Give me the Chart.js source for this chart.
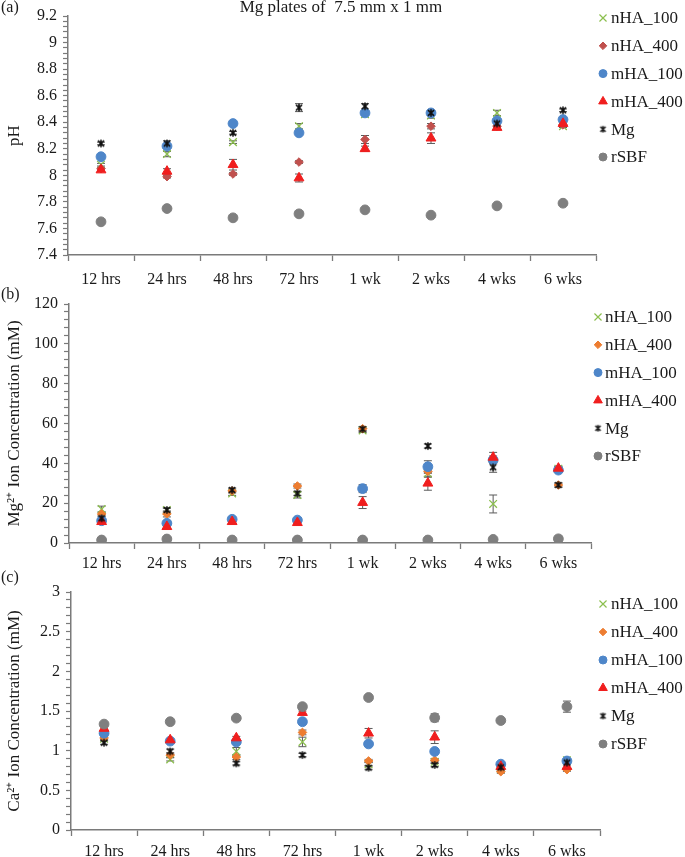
<!DOCTYPE html>
<html><head><meta charset="utf-8">
<script src="https://cdn.jsdelivr.net/npm/chart.js@4.4.1/dist/chart.umd.min.js"></script>
<style>
html,body{margin:0;padding:0;background:#fff;}
#wrap{position:relative;width:685px;height:857px;overflow:hidden;}
.p{position:absolute;left:0;width:685px;}
canvas{display:block;}
</style></head><body>
<div id="wrap">
<div class="p" style="top:0;height:285px"><canvas id="ca" width="685" height="285"></canvas></div>
<div class="p" style="top:285px;height:285px"><canvas id="cb" width="685" height="285"></canvas></div>
<div class="p" style="top:570px;height:287px"><canvas id="cc" width="685" height="287"></canvas></div>
</div>
<script>
// ---------- DATA ----------
const categories = ['12 hrs','24 hrs','48 hrs','72 hrs','1 wk','2 wks','4 wks','6 wks'];
const seriesNames = ['nHA_100','nHA_400','mHA_100','mHA_400','Mg','rSBF'];

// (a) pH
const ph_nHA100 = [8.08, 8.16, 8.25, 8.37, 8.46, 8.45, 8.47, 8.37];
const ph_nHA400 = [8.05, 7.99, 8.01, 8.10, 8.27, 8.37, 8.37, 8.38];
const ph_mHA100 = [8.14, 8.22, 8.39, 8.32, 8.47, 8.47, 8.41, 8.42];
const ph_mHA400 = [8.04, 8.03, 8.08, 7.98, 8.20, 8.28, 8.36, 8.39];
const ph_Mg     = [8.24, 8.24, 8.32, 8.51, 8.52, 8.47, 8.39, 8.49];
const ph_rSBF   = [7.65, 7.75, 7.68, 7.71, 7.74, 7.70, 7.77, 7.79];
const phErr_nHA100 = [0.01, 0.02, 0.01, 0.02, 0.01, 0.02, 0.02, 0.01];
const phErr_nHA400 = [0.01, 0.01, 0.01, 0.01, 0.03, 0.02, 0.01, 0.01];
const phErr_mHA100 = [0.01, 0.01, 0.01, 0.01, 0.01, 0.01, 0.01, 0.01];
const phErr_mHA400 = [0.01, 0.02, 0.04, 0.03, 0.02, 0.04, 0.01, 0.01];
const phErr_Mg     = [0.01, 0.02, 0.01, 0.03, 0.02, 0.02, 0.02, 0.01];
const phErr_rSBF   = [0.01, 0.01, 0.01, 0.01, 0.01, 0.01, 0.01, 0.01];

// (b) Mg2+ ion concentration (mM)
const mg_nHA100 = [17.0, 16.5, 24.9, 24.1, 56.5, 35.0, 19.6, 37.3];
const mg_nHA400 = [14.6, 14.6, 26.1, 28.6, 57.4, 36.0, 41.0, 29.1];
const mg_mHA100 = [11.2, 9.9, 11.9, 11.5, 27.3, 38.3, 41.7, 36.6];
const mg_mHA400 = [10.7, 8.2, 10.7, 10.2, 20.3, 30.0, 43.0, 37.5];
const mg_Mg     = [12.4, 16.6, 26.6, 24.9, 57.2, 48.7, 38.0, 29.1];
const mg_rSBF   = [1.5, 2.0, 1.5, 1.5, 1.5, 1.5, 1.8, 2.1];
const mgErr_nHA100 = [1.5, 1.0, 1.0, 1.5, 1.0, 2.0, 4.5, 1.0];
const mgErr_nHA400 = [1.0, 1.5, 1.0, 1.0, 1.0, 1.0, 1.0, 1.0];
const mgErr_mHA100 = [1.0, 1.0, 1.0, 1.0, 2.0, 3.0, 2.0, 1.0];
const mgErr_mHA400 = [1.0, 1.0, 1.0, 1.0, 3.0, 3.5, 2.5, 1.0];
const mgErr_Mg     = [1.0, 1.0, 1.0, 1.0, 1.0, 1.0, 2.5, 1.0];
const mgErr_rSBF   = [0.5, 0.5, 0.5, 0.5, 0.5, 0.5, 0.5, 0.5];

// (c) Ca2+ ion concentration (mM)
const ca_nHA100 = [1.15, 0.89, 0.99, 1.11, 0.83, 0.86, 0.77, 0.88];
const ca_nHA400 = [1.16, 0.945, 0.92, 1.23, 0.87, 0.88, 0.735, 0.76];
const ca_mHA100 = [1.22, 1.12, 1.11, 1.365, 1.085, 0.99, 0.83, 0.87];
const ca_mHA400 = [1.28, 1.135, 1.16, 1.48, 1.22, 1.17, 0.80, 0.80];
const ca_Mg     = [1.10, 0.99, 0.84, 0.945, 0.785, 0.82, 0.79, 0.85];
const ca_rSBF   = [1.335, 1.365, 1.41, 1.555, 1.67, 1.415, 1.38, 1.555];
const caErr_nHA100 = [0.02, 0.02, 0.05, 0.06, 0.02, 0.02, 0.02, 0.02];
const caErr_nHA400 = [0.02, 0.03, 0.03, 0.03, 0.02, 0.02, 0.02, 0.02];
const caErr_mHA100 = [0.02, 0.02, 0.02, 0.02, 0.02, 0.02, 0.02, 0.02];
const caErr_mHA400 = [0.02, 0.02, 0.02, 0.02, 0.06, 0.08, 0.02, 0.02];
const caErr_Mg     = [0.02, 0.03, 0.02, 0.02, 0.02, 0.02, 0.02, 0.02];
const caErr_rSBF   = [0.02, 0.02, 0.02, 0.02, 0.02, 0.05, 0.02, 0.07];

// ---------- STYLE ----------
const FONT = "'Liberation Serif', 'Times New Roman', serif";
const AXIS = '#7a7a7a';
const TXT = '#1a1a1a';

function makeStar(size, lw){
  const c = document.createElement('canvas');
  c.width = size; c.height = size;
  const g = c.getContext('2d');
  g.strokeStyle = '#111'; g.lineWidth = lw; g.lineCap = 'butt';
  const h = size/2, d = size/2 - 1.2;
  g.beginPath();
  g.moveTo(h - d*0.8, h - d*0.75); g.lineTo(h + d*0.8, h + d*0.75);
  g.moveTo(h + d*0.8, h - d*0.75); g.lineTo(h - d*0.8, h + d*0.75);
  g.moveTo(h, h - d); g.lineTo(h, h + d);
  g.stroke();
  return c;
}
const starBig = makeStar(10, 1.6);
const starSmall = makeStar(9, 1.5);

function seriesStyle(name, diamondColor){
  switch(name){
    case 'nHA_100': return {pointStyle:'crossRot', color:'#8cbf4f', radius:5.4, lr:5.0, bw:1.3};
    case 'nHA_400': return {pointStyle:'rectRot', color:diamondColor, radius:4.3, lr:3.8, bw:1};
    case 'mHA_100': return {pointStyle:'circle', color:'#4e86c9', radius:4.9, lr:4.0, bw:1};
    case 'mHA_400': return {pointStyle:'triangle', color:'#f01e1e', radius:5.7, lr:5.0, bw:1};
    case 'Mg':      return {pointStyle:starBig, legendStyle:starSmall, color:'#111', radius:5, lr:4, bw:1};
    case 'rSBF':    return {pointStyle:'circle', color:'#7f7f7f', radius:4.9, lr:4.0, bw:1};
  }
}

function buildDatasets(values, errors, diamondColor){
  return seriesNames.map((n, i) => {
    const s = seriesStyle(n, diamondColor);
    return {
      label: n, data: values[i], errors: errors[i],
      showLine: false,
      pointStyle: s.pointStyle, legendStyle: s.legendStyle || s.pointStyle,
      legendRadius: s.lr,
      pointRadius: s.radius, pointHoverRadius: s.radius,
      pointBackgroundColor: s.color, pointBorderColor: s.color,
      pointBorderWidth: s.bw,
      backgroundColor: s.color, borderColor: s.color,
      order: seriesNames.length - i
    };
  });
}

const errorBars = {
  id: 'errorBars',
  beforeDatasetsDraw(chart){
    const ctx = chart.ctx, ys = chart.scales.y;
    chart.data.datasets.forEach((ds, i) => {
      const meta = chart.getDatasetMeta(i);
      if (!ds.errors) return;
      meta.data.forEach((pt, j) => {
        const e = ds.errors[j]; if (!e) return;
        const v = ds.data[j];
        const yt = ys.getPixelForValue(v + e), yb = ys.getPixelForValue(v - e);
        const x = pt.x;
        ctx.save();
        ctx.strokeStyle = '#5a5a5a'; ctx.lineWidth = 1;
        ctx.beginPath();
        ctx.moveTo(x, yt); ctx.lineTo(x, yb);
        ctx.moveTo(x - 4, yt); ctx.lineTo(x + 4, yt);
        ctx.moveTo(x - 4, yb); ctx.lineTo(x + 4, yb);
        ctx.stroke();
        ctx.restore();
      });
    });
  }
};

const decor = {
  id: 'decor',
  afterDraw(chart, args, opts){
    const ctx = chart.ctx;
    ctx.save();
    ctx.fillStyle = TXT;
    ctx.textBaseline = 'middle';
    ctx.textAlign = 'left';
    ctx.font = '16px ' + FONT;
    ctx.fillText(opts.panel, opts.panelX, opts.panelY);
    if (opts.title){
      ctx.textAlign = 'center';
      ctx.font = '17px ' + FONT;
      ctx.fillText(opts.title, opts.titleX, opts.titleY);
    }
    // legend
    ctx.textAlign = 'left';
    ctx.font = '17px ' + FONT;
    chart.data.datasets.forEach((ds, i) => {
      const y = opts.legY + i * opts.legDy;
      ctx.fillStyle = ds.pointBackgroundColor;
      ctx.strokeStyle = ds.pointBorderColor;
      ctx.lineWidth = ds.pointStyle === 'crossRot' ? 1.2 : 1;
      if (Chart.helpers && Chart.helpers.drawPoint){
        Chart.helpers.drawPoint(ctx, {pointStyle: ds.legendStyle, radius: ds.legendRadius, rotation: 0, borderWidth: 1}, opts.legX, y);
      }
      ctx.fillStyle = TXT;
      ctx.fillText(ds.label, opts.legTX, y + 1);
    });
    ctx.restore();
  }
};

function makeChart(id, cfg){
  const H = cfg.H;
  return new Chart(document.getElementById(id), {
    type: 'line',
    data: { labels: categories, datasets: buildDatasets(cfg.values, cfg.errors, cfg.diamondColor) },
    plugins: [errorBars, decor],
    options: {
      responsive: false, animation: false,
      events: [],
      layout: { padding: { left: 0, right: 685 - cfg.right, top: cfg.top, bottom: 0 } },
      plugins: {
        legend: { display: false }, tooltip: { enabled: false }, title: { display: false },
        decor: cfg.decor
      },
      scales: {
        x: {
          type: 'category', offset: true,
          grid: { offset: true, drawOnChartArea: false, drawTicks: true, tickLength: 6, color: AXIS, tickWidth: 1.3 },
          border: { display: true, color: AXIS, width: 1.5 },
          ticks: { color: TXT, font: { family: FONT, size: 16 }, padding: cfg.xPad, maxRotation: 0, autoSkip: false },
          afterFit: s => { s.height = H - cfg.bottom; }
        },
        y: {
          min: cfg.min, max: cfg.max,
          grid: { drawOnChartArea: false, drawTicks: true, tickLength: 5, color: AXIS, tickWidth: 1.2 },
          border: { display: true, color: AXIS, width: 1.5 },
          ticks: {
            stepSize: cfg.minor, maxTicksLimit: 1000, autoSkip: false,
            color: TXT, font: { family: FONT, size: 16 }, padding: 6,
            callback: v => { const k = v / cfg.major; return Math.abs(k - Math.round(k)) < 1e-6 ? String(+v.toFixed(2)) : ''; }
          },
          title: { display: true, text: cfg.yTitle, color: TXT, font: { family: FONT, size: 17 }, padding: { top: 4, bottom: 0 } },
          afterFit: s => { s.width = cfg.left; }
        }
      }
    }
  });
}

makeChart('ca', {
  H: 285, left: 68, right: 596, top: 16, bottom: 255, xPad: 9,
  min: 7.4, max: 9.2, major: 0.2, minor: 0.04, yTitle: 'pH', diamondColor: '#c0504d',
  values: [ph_nHA100, ph_nHA400, ph_mHA100, ph_mHA400, ph_Mg, ph_rSBF],
  errors: [phErr_nHA100, phErr_nHA400, phErr_mHA100, phErr_mHA400, phErr_Mg, phErr_rSBF],
  decor: { panel: '(a)', panelX: 1, panelY: 8, title: 'Mg plates of  7.5 mm x 1 mm', titleX: 341, titleY: 8,
           legX: 603, legTX: 611, legY: 18, legDy: 27.8 }
});
makeChart('cb', {
  H: 285, left: 69, right: 591, top: 19, bottom: 258, xPad: 5,
  min: 0, max: 120, major: 20, minor: 4, yTitle: 'Mg\u00B2\u207A Ion Concentration (mM)', diamondColor: '#ed7d31',
  values: [mg_nHA100, mg_nHA400, mg_mHA100, mg_mHA400, mg_Mg, mg_rSBF],
  errors: [mgErr_nHA100, mgErr_nHA400, mgErr_mHA100, mgErr_mHA400, mgErr_Mg, mgErr_rSBF],
  decor: { panel: '(b)', panelX: 1, panelY: 10, title: null,
           legX: 598, legTX: 605, legY: 32, legDy: 27.8 }
});
makeChart('cc', {
  H: 287, left: 71, right: 600, top: 22, bottom: 260, xPad: 6,
  min: 0, max: 3, major: 0.5, minor: 0.1, yTitle: 'Ca\u00B2\u207A Ion Concentration (mM)', diamondColor: '#ed7d31',
  values: [ca_nHA100, ca_nHA400, ca_mHA100, ca_mHA400, ca_Mg, ca_rSBF],
  errors: [caErr_nHA100, caErr_nHA400, caErr_mHA100, caErr_mHA400, caErr_Mg, caErr_rSBF],
  decor: { panel: '(c)', panelX: 1, panelY: 8, title: null,
           legX: 603, legTX: 611, legY: 34, legDy: 28 }
});
</script>
</body></html>
